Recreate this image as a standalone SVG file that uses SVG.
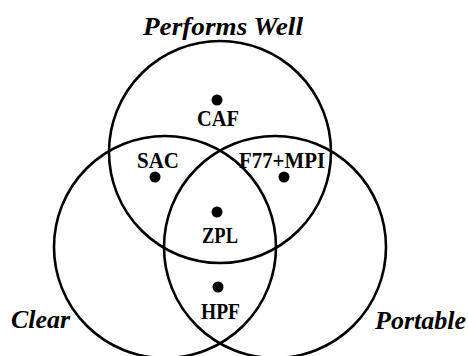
<svg xmlns="http://www.w3.org/2000/svg" width="468" height="356" viewBox="0 0 468 356">
<style>
.c{fill:none;stroke:#000;stroke-width:2.6}
.d{fill:#000}
.l{font-family:"Liberation Serif","Times New Roman",serif;font-weight:bold;font-size:23px;fill:#000}
.t{font-family:"Liberation Serif","Times New Roman",serif;font-weight:bold;font-style:italic;font-size:26px;fill:#000}
</style>
<rect width="468" height="356" fill="#fff"/>
<g id="sets">
<circle id="performs" class="c" cx="220" cy="152" r="111"/>
<circle id="clear" class="c" cx="165" cy="247" r="111"/>
<circle id="portable" class="c" cx="275" cy="247" r="111"/>
</g>
<g id="set-labels">
<text class="t" x="143" y="35" textLength="160" lengthAdjust="spacingAndGlyphs">Performs Well</text>
<text class="t" x="11" y="328" textLength="59" lengthAdjust="spacingAndGlyphs">Clear</text>
<text class="t" x="375" y="329" textLength="91" lengthAdjust="spacingAndGlyphs">Portable</text>
</g>
<g id="CAF"><circle class="d" cx="217" cy="100" r="5.5"/><text class="l" x="197" y="126" textLength="42" lengthAdjust="spacingAndGlyphs">CAF</text></g>
<g id="SAC"><circle class="d" cx="155" cy="177" r="5.5"/><text class="l" x="137" y="168" textLength="42" lengthAdjust="spacingAndGlyphs">SAC</text></g>
<g id="F77MPI"><circle class="d" cx="284" cy="177" r="5.5"/><text class="l" x="239" y="168" textLength="86" lengthAdjust="spacingAndGlyphs">F77+MPI</text></g>
<g id="ZPL"><circle class="d" cx="217" cy="212" r="5.5"/><text class="l" x="202" y="243" textLength="36" lengthAdjust="spacingAndGlyphs">ZPL</text></g>
<g id="HPF"><circle class="d" cx="218" cy="287" r="5.5"/><text class="l" x="201" y="319" textLength="39" lengthAdjust="spacingAndGlyphs">HPF</text></g>
<g id="connectors"/>
</svg>
